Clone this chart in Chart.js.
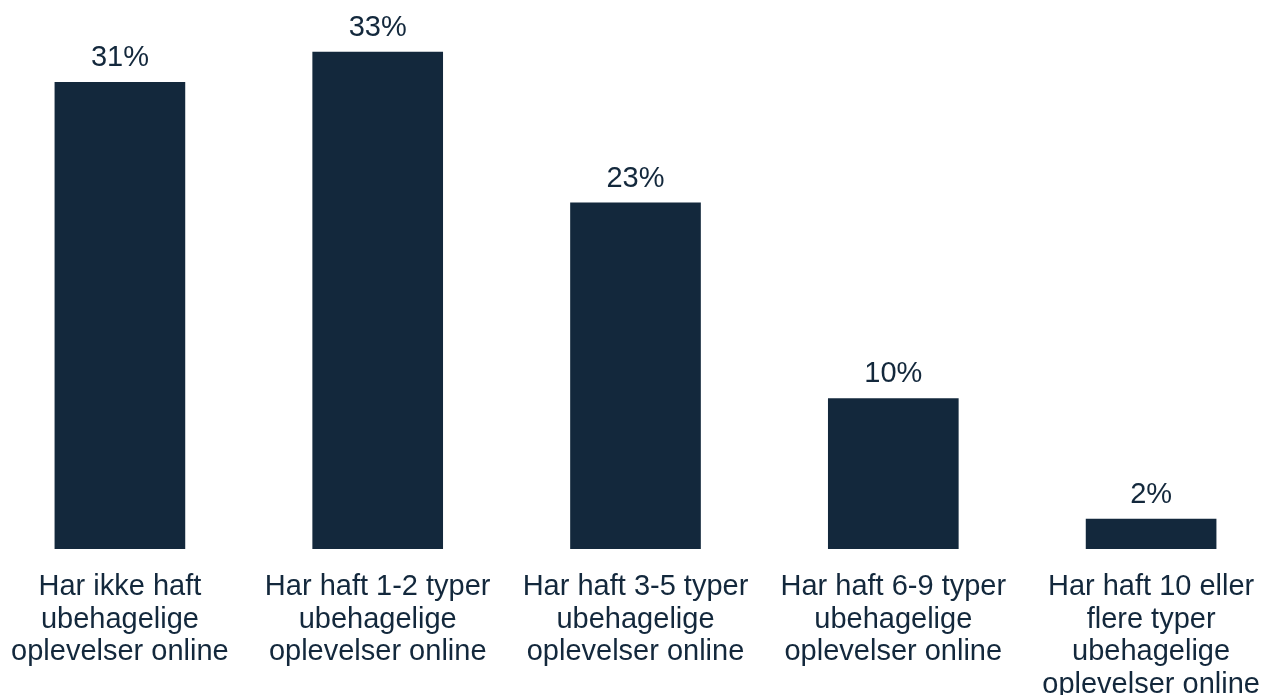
<!DOCTYPE html>
<html>
<head>
<meta charset="utf-8">
<script src="https://cdn.jsdelivr.net/npm/chart.js@4"></script>
<style>
    html, body { margin: 0; padding: 0; background: #fff; overflow: hidden; }
    #wrap { position: absolute; left: -9px; top: 0; width: 1289px; height: 715px; }
</style>
</head>
<body>
<div id="wrap"><canvas id="chart"></canvas></div>
<script>
// dados do gráfico
const categories = [
    ["Har ikke haft", "ubehagelige", "oplevelser online"],
    ["Har haft 1-2 typer", "ubehagelige", "oplevelser online"],
    ["Har haft 3-5 typer", "ubehagelige", "oplevelser online"],
    ["Har haft 6-9 typer", "ubehagelige", "oplevelser online"],
    ["Har haft 10 eller", "flere typer", "ubehagelige", "oplevelser online"]
];
const shares = [31, 33, 23, 10, 2];

const navy = '#13283c';
const fontFamily = '"Liberation Sans", Arial, sans-serif';

// plugin simples para escrever o valor em cima de cada barra
const valueLabels = {
    id: 'valueLabels',
    afterDatasetsDraw(chart) {
        const ctx = chart.ctx;
        const meta = chart.getDatasetMeta(0);
        ctx.save();
        ctx.font = '29px ' + fontFamily;
        ctx.fillStyle = navy;
        ctx.textAlign = 'center';
        ctx.textBaseline = 'alphabetic';
        meta.data.forEach((bar, i) => {
            ctx.fillText(shares[i] + '%', bar.x, bar.y - 16);
        });
        ctx.restore();
    }
};

const ctx = document.getElementById('chart').getContext('2d');
const chart = new Chart(ctx, {
    type: 'bar',
    data: {
        labels: categories,
        datasets: [{
            data: shares,
            backgroundColor: navy,
            barThickness: 130
        }]
    },
    options: {
        responsive: true,
        maintainAspectRatio: false,
        animation: false,
        layout: {
            padding: { top: 22, left: 0, right: 0, bottom: 0 }
        },
        scales: {
            x: {
                grid: { display: false },
                border: { display: false },
                ticks: {
                    color: navy,
                    padding: 14,
                    maxRotation: 0,
                    autoSkip: false,
                    font: { family: fontFamily, size: 29, lineHeight: 1.12 }
                }
            },
            y: {
                display: false,
                min: 0,
                max: 35
            }
        },
        plugins: {
            legend: { display: false },
            tooltip: { enabled: false }
        }
    },
    plugins: [valueLabels]
});
</script>
</body>
</html>
